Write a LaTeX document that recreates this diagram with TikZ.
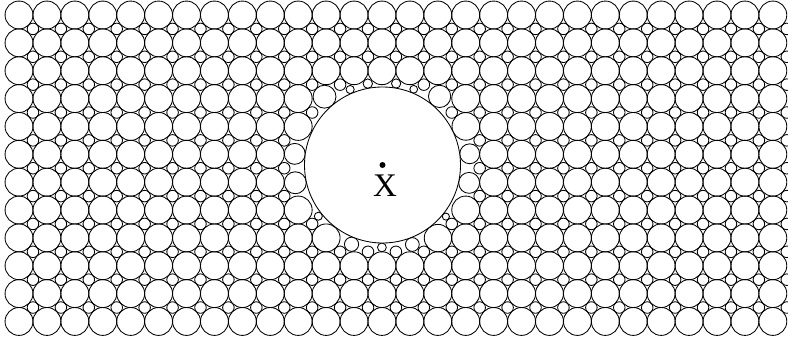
\documentclass[tikz,border=0pt]{standalone}
\usepackage{fontspec}
\setmainfont{Liberation Serif}
\usetikzlibrary{positioning}

\tikzset{
  grain/.style={draw=black, line width=0.85pt},
}

% one grain at lattice point (#1,#2) with radius #3; pushed off the inclusion if needed
\newcommand{\grain}[3]{%
  \pgfmathsetmacro{\dd}{veclen(#1-382.5,#2-165)}
  \pgfmathsetmacro{\rr}{(\dd-#3>=78) ? #3 : (\dd+#3-78)/2}
  \pgfmathsetmacro{\ss}{(\dd-#3>=78) ? 1 : (78+\rr)/\dd}
  \ifdim\rr pt>2.5pt
    \draw[grain] ({382.5+\ss*(#1-382.5)},{165+\ss*(#2-165)}) circle[radius=\rr];
  \fi
}

\begin{document}
\begin{tikzpicture}[x=1pt, y=-1pt]
      % Frame of the picture
      \useasboundingbox (0,0) rectangle (788,340);
      \clip (0,0) rectangle (788,340);

      % Large grains of the square lattice
      \foreach \i in {0,...,27}{
        \foreach \j in {0,...,11}{
          \pgfmathsetmacro{\cx}{19+27.92*\i}
          \pgfmathsetmacro{\cy}{15+27.86*\j}
          \grain{\cx}{\cy}{13.95}
        }
      }

      % Small grains in the gaps
      \foreach \i in {0,...,27}{
        \foreach \j in {0,...,10}{
          \pgfmathsetmacro{\cx}{19+27.92*(\i+0.5)}
          \pgfmathsetmacro{\cy}{15+27.86*(\j+0.5)}
          \grain{\cx}{\cy}{5.78}
        }
      }

      % Inclusion with its centre
      \coordinate (xc) at (382.5,165);
      \draw[grain, fill=white] (xc) circle[radius=78];
      \fill (xc) circle[radius=3];
      \node[inner sep=0pt, font=\fontsize{33}{33}\selectfont, below=10pt of xc, xshift=2.5pt] (xlabel) {X};
\end{tikzpicture}
\end{document}
